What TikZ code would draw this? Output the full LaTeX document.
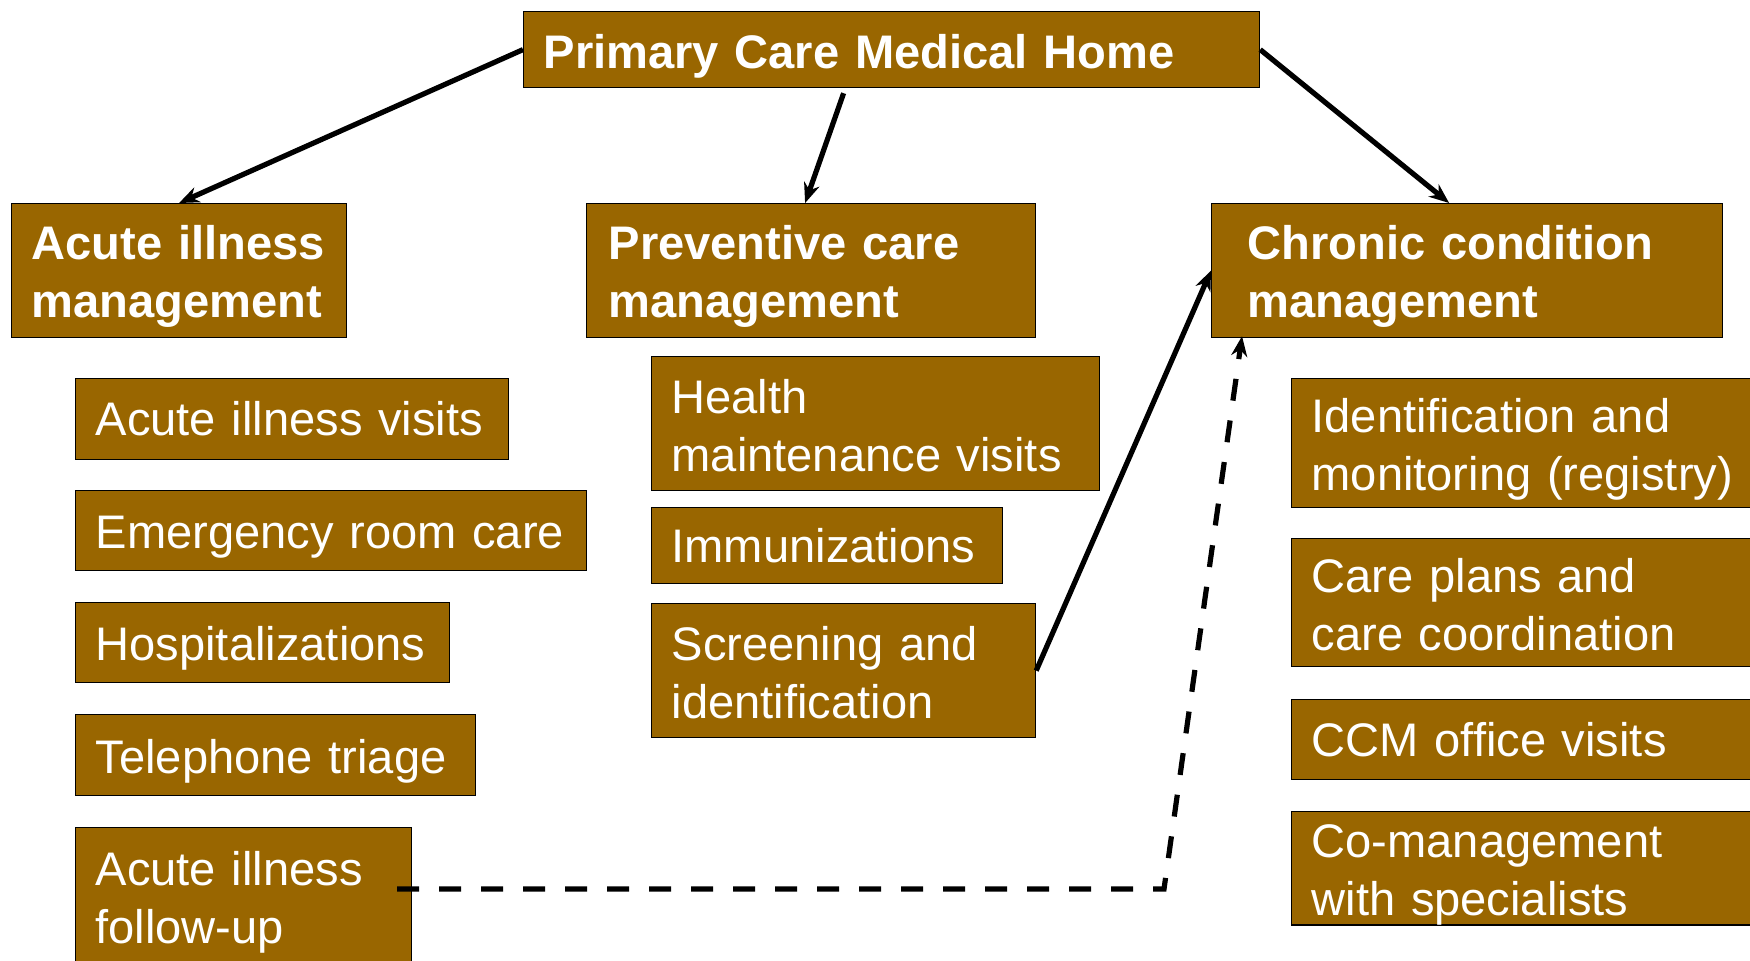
\documentclass[tikz,border=0pt]{standalone}
\usepackage{fontspec}
\setmainfont{Liberation Sans}
\usepackage{xcolor}
\usepackage{tikz}
\usetikzlibrary{positioning}
\usetikzlibrary{arrows.meta,shapes}
\usetikzlibrary{calc}
\definecolor{pcmhbrown}{RGB}{153,102,0}
\tikzstyle{itembox}=[rectangle,fill=pcmhbrown,draw=black,line width=0.6pt,anchor=north west,align=left,text=white,inner ysep=0pt,font=\fontsize{23.55}{29}\selectfont]
\tikzstyle{headbox}=[itembox,font=\fontsize{23.55}{29}\selectfont\bfseries]
\tikzstyle{linkedge} = [draw,line width=2.6pt,-{Stealth[length=10pt,width=8pt]}]
\tikzstyle{dashededge} = [draw,line width=2.6pt,dash pattern=on 11pt off 10pt,-{Stealth[length=10pt,width=8pt]}]

\begin{document}
\begin{tikzpicture}[x=0.5pt,y=-0.5pt]

 \useasboundingbox (0,0) rectangle (1750,960);

 %top
  \foreach \x/\y/\w/\h/\p/\sh/\name/\label in {523/11/736/76/20/23.9/pcmh/{Primary Care Medical Home},
        11/203/335/134/20/22.8/acute/{Acute illness\\management},
        586/203/449/134/22/22.8/prev/{Preventive care\\management},
        1211/203/511/134/36/22.8/chronic/{Chronic condition\\management}}
  {
   \pgfmathsetmacro\tw{(\w-2*\p)*0.5}
   \pgfmathsetmacro\ps{\p*0.5}
   \node[headbox,text width=\tw pt,inner xsep=\ps pt,minimum height=\h*0.5pt] (\name) at (\x,\y) {\rule{0pt}{\sh pt}\label};
  }

 %acute column
  \foreach \x/\y/\w/\h/\p/\sh/\name/\label in {75/378/433/81/20/0/av/{Acute illness visits},
        75/490/511/80/20/22.8/er/{Emergency room care},
        75/602/374/80/20/22.8/hosp/{Hospitalizations},
        75/714/400/81/20/22.8/tel/{Telephone triage},
        75/827/336/150/20/0/fup/{Acute illness\\follow-up}}
  {
   \pgfmathsetmacro\tw{(\w-2*\p)*0.5}
   \pgfmathsetmacro\ps{\p*0.5}
   \node[itembox,text width=\tw pt,inner xsep=\ps pt,minimum height=\h*0.5pt] (\name) at (\x,\y) {\rule{0pt}{\sh pt}\label};
  }

 %preventive column
  \foreach \x/\y/\w/\h/\p/\sh/\name/\label in {651/356/448/134/20/19.4/hmv/{Health\\maintenance visits},
        651/507/351/76/20/0/imm/{Immunizations},
        651/603/384/134/20/19.4/scr/{Screening and\\identification}}
  {
   \pgfmathsetmacro\tw{(\w-2*\p)*0.5}
   \pgfmathsetmacro\ps{\p*0.5}
   \node[itembox,text width=\tw pt,inner xsep=\ps pt,minimum height=\h*0.5pt] (\name) at (\x,\y) {\rule{0pt}{\sh pt}\label};
  }

 %chronic column
  \foreach \x/\y/\w/\h/\p/\sh/\name/\label in {1291/378/480/129/20/22.8/idm/{Identification and\\monitoring (registry)},
        1291/538/480/128/20/19.4/cp/{Care plans and\\care coordination},
        1291/699/480/80/20/0/ccm/{CCM office visits},
        1291/811/480/112/20/22.8/com/{Co-management\\with specialists}}
  {
   \pgfmathsetmacro\tw{(\w-2*\p)*0.5}
   \pgfmathsetmacro\ps{\p*0.5}
   \node[itembox,text width=\tw pt,inner xsep=\ps pt,minimum height=\h*0.5pt] (\name) at (\x,\y) {\rule{0pt}{\sh pt}\label};
  }

 %arrows
  \path[linkedge] (pcmh.west) -- (acute.north);
  \path[linkedge] ([xshift=-24pt,yshift=-2.5pt]pcmh.south) -- ([xshift=-3pt]prev.north);
  \path[linkedge] (pcmh.east) -- ([xshift=-9pt]chronic.north);
  \path[linkedge] (scr.east) -- (chronic.west);

  \coordinate (bend) at (1164,889);
  \path[dashededge] ($(fup.east |- bend)+(-15,0)$) -- (bend) -- ([xshift=15.5pt,yshift=1pt]chronic.south west);

\end{tikzpicture}
\end{document}
